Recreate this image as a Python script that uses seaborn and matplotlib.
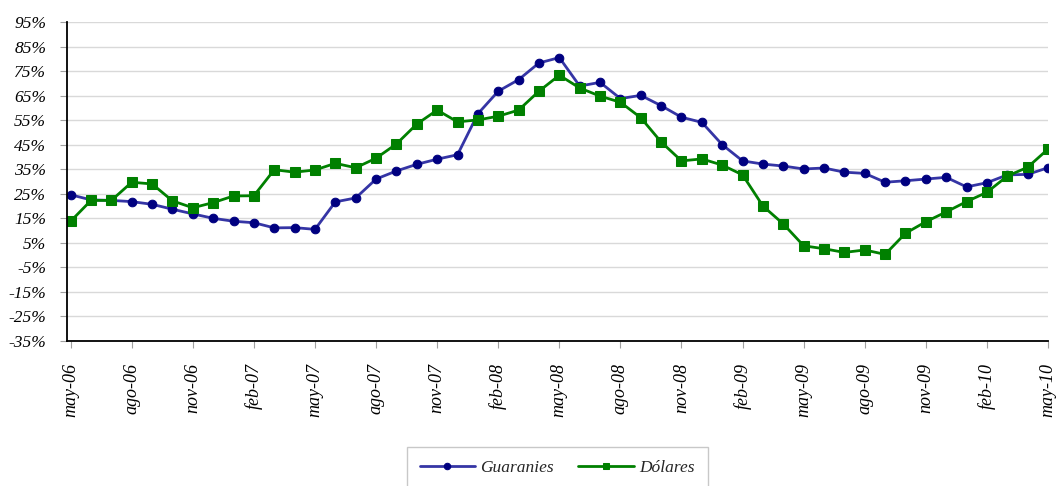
import numpy as np
import pandas as pd
import matplotlib
matplotlib.use("Agg")
import matplotlib.pyplot as plt
import seaborn as sns

### Data (monthly, may-06 .. may-10)
meses = ["may", "jun", "jul", "ago", "sep", "oct", "nov", "dic", "ene", "feb", "mar", "abr"]
fechas = []
for i in range(49):
    m = meses[i % 12]
    anio = 6 + (i + 4) // 12
    fechas.append("%s-%02d" % (m, anio))

guaranies = [24.6, 22.5, 22.3, 21.8, 20.7, 18.7, 16.8, 15.0, 13.8, 13.2, 11.1, 11.2, 10.5,
             21.7, 23.3, 31.0, 34.3, 37.0, 39.1, 40.9, 57.6, 66.8, 71.5, 78.3, 80.5,
             68.9, 70.4, 63.8, 65.1, 60.9, 56.2, 54.1, 45.0, 38.4, 37.1, 36.3,
             35.1, 35.5, 33.8, 33.3, 29.7, 30.3, 31.0, 31.7, 27.8, 29.5, 32.7, 32.9, 35.6]

dolares = [13.8, 22.3, 22.3, 29.7, 29.0, 22.1, 19.3, 21.4, 24.1, 24.2, 34.8, 33.8, 34.7,
           37.4, 35.6, 39.5, 45.3, 53.4, 59.1, 54.3, 55.1, 56.6, 59.1, 66.8, 73.3,
           68.1, 64.8, 62.3, 56.0, 46.1, 38.4, 39.2, 36.7, 32.7, 20.0, 12.7,
           3.8, 2.6, 1.1, 2.1, 0.3, 8.9, 13.6, 17.6, 21.8, 25.6, 32.2, 35.8, 43.2]

y_ticks = list(range(-35, 96, 10))

df = pd.DataFrame({"pos": np.arange(len(fechas)), "fecha": fechas,
                   "Guaranies": guaranies, "Dólares": dolares})

###############################################################################
sns.set_style("white")
plt.rcParams["font.family"] = ["Liberation Serif", "DejaVu Serif"]
plt.rcParams["font.style"] = "italic"

fig = plt.figure(figsize=(10.57, 4.86), dpi=100)
ax = fig.add_axes([67 / 1057, 1 - 341 / 486, 981 / 1057, 319 / 486])

sns.lineplot(data=df, x="pos", y="Guaranies", ax=ax, color="#3535A5", lw=2.0,
             marker="o", markersize=6.2, markerfacecolor="#000080",
             markeredgecolor="#000080", label="Guaranies")
sns.lineplot(data=df, x="pos", y="Dólares", ax=ax, color="#008000", lw=2.0,
             marker="s", markersize=6.5, markerfacecolor="#008000",
             markeredgecolor="#008000", label="Dólares")

ax.set_ylim(-35, 95)
ax.set_yticks(y_ticks)
ax.set_yticklabels(["%d%%" % v for v in y_ticks], fontsize=12.5, fontstyle="italic")
ax.set_xlim(-0.18, 48)
xt = list(range(0, 49, 3))
ax.set_xticks(xt)
ax.set_xticklabels([fechas[i] for i in xt], rotation=90, fontsize=13,
                   fontstyle="italic", va="top")
ax.set_xlabel("")
ax.set_ylabel("")

ax.yaxis.grid(True, color="#D9D9D9", lw=1.0)
ax.xaxis.grid(False)
for s in ["top", "right"]:
    ax.spines[s].set_visible(False)
for s in ["left", "bottom"]:
    ax.spines[s].set_color("black")
    ax.spines[s].set_linewidth(1.3)
ax.tick_params(axis="y", which="major", left=True, length=5, color="#A0A0A0",
               pad=10, labelcolor="black")
ax.tick_params(axis="x", which="major", bottom=True, length=5, color="#A0A0A0",
               pad=11, labelcolor="black")

ax.legend_.remove()
h, l = ax.get_legend_handles_labels()
leg = fig.legend(h, l, loc="upper center", bbox_to_anchor=(0.527, 1 - 447 / 486),
                 ncol=2, frameon=True, fancybox=False, fontsize=12.5,
                 borderpad=0.75, borderaxespad=0, handlelength=3.2, handletextpad=0.3,
                 columnspacing=1.4, edgecolor="#BBBBBB", markerscale=0.75)
leg.get_frame().set_linewidth(1.0)

fig.savefig("out.png", dpi=100)
